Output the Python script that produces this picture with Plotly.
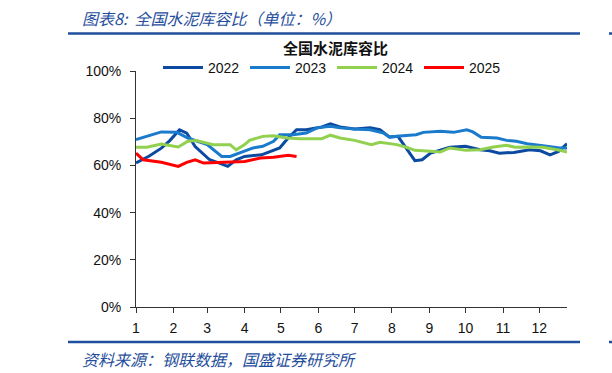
import pandas as pd
import plotly.graph_objects as go

# ---- data (day of year offsets, values in %) ----
days_2022 = [0, 11, 21, 28, 36, 42, 49, 61, 69, 76, 83, 90, 104, 111, 119, 126, 133, 141, 154, 161, 169,
             181, 194, 202, 210, 217, 224, 231, 237, 244, 252, 260, 273, 285, 293, 301, 313, 326, 335, 343, 350, 357]
vals_2022 = [61.0, 64.0, 67.3, 70.5, 75.1, 73.7, 68.0, 62.4, 61.0, 59.6, 62.4, 63.8, 64.5, 65.9, 67.4, 71.6, 75.1,
             75.1, 76.3, 77.6, 76.3, 75.4, 75.9, 75.1, 72.0, 72.3, 67.4, 62.0, 62.4, 65.2, 66.4, 67.7, 68.1, 66.6,
             66.2, 65.2, 65.5, 66.6, 66.2, 64.5, 65.9, 69.2]

days_2023 = [0, 12, 21, 34, 43, 59, 71, 78, 85, 97, 105, 114, 119, 130, 141, 150, 161, 169, 181, 194, 205,
             210, 221, 232, 238, 252, 263, 274, 279, 286, 299, 307, 315, 324, 337, 351, 357]
vals_2023 = [70.9, 72.6, 74.2, 74.0, 71.6, 68.8, 63.8, 63.8, 65.2, 67.4, 68.1, 70.2, 73.0, 73.0, 73.7, 75.9,
             76.6, 75.9, 75.4, 75.1, 73.7, 72.0, 72.6, 73.0, 74.0, 74.5, 74.0, 75.1, 74.2, 71.9, 71.6, 70.6,
             70.2, 69.2, 68.3, 67.4, 67.4]

days_2024 = [0, 9, 21, 35, 43, 50, 64, 78, 83, 90, 94, 105, 114, 125, 136, 154, 161, 169, 181, 188, 195,
             202, 216, 224, 231, 244, 252, 260, 273, 285, 296, 307, 314, 326, 337, 351, 357]
vals_2024 = [67.7, 67.7, 69.1, 67.8, 70.2, 70.5, 68.8, 68.8, 66.6, 68.8, 70.6, 72.3, 72.6, 71.6, 71.3, 71.3,
             72.8, 71.6, 70.6, 69.8, 68.8, 69.8, 68.8, 67.7, 66.4, 66.0, 65.7, 67.4, 66.4, 66.6, 67.8, 68.5,
             67.7, 67.8, 67.7, 66.4, 65.7]

days_2025 = [0, 6, 21, 35, 42, 49, 56, 67, 90, 103, 114, 126, 133]
vals_2025 = [65.2, 62.4, 61.3, 59.6, 61.3, 62.4, 61.0, 61.3, 61.7, 63.1, 63.5, 64.3, 63.8]

series_names = ["2022", "2023", "2024", "2025"]
month_labels = [str(m) for m in range(1, 13)]
y_ticks = [0, 20, 40, 60, 80, 100]

BASE = pd.Timestamp("2022-01-01")
def to_dates(days):
    return [BASE + pd.Timedelta(days=d) for d in days]

colors = ["#0B4AA0", "#1A7ACB", "#92D050", "#FF0000"]
all_days = [days_2022, days_2023, days_2024, days_2025]
all_vals = [vals_2022, vals_2023, vals_2024, vals_2025]

fig = go.Figure()
for name, d, v, c in zip(series_names, all_days, all_vals, colors):
    fig.add_trace(go.Scatter(x=to_dates(d), y=v, name=name, mode="lines",
                             line=dict(color=c, width=3)))

W, H = 612, 373
L, R, T, B = 136, 45, 71, 66
PW, PH = W - L - R, H - T - B
def px(x):
    return (x - L) / PW
def py(y):
    return (H - B - y) / PH

month_starts = [pd.Timestamp(2022, m, 1) for m in range(1, 13)]
cjk = "Noto Sans CJK SC"
blue = "#1F4E9C"

fig.update_layout(
    width=W, height=H,
    margin=dict(l=L, r=R, t=T, b=B),
    paper_bgcolor="white", plot_bgcolor="white",
    font=dict(family="Liberation Sans, Arial, " + cjk, size=14, color="#111111"),
    showlegend=True,
    legend=dict(orientation="h", x=px(158), xanchor="left", y=py(68), yanchor="middle",
                font=dict(size=14), itemwidth=40, entrywidth=32, entrywidthmode="pixels",
                tracegroupgap=0, bgcolor="rgba(0,0,0,0)"),
    xaxis=dict(type="date", range=[BASE, BASE + pd.Timedelta(days=357)],
               tickvals=month_starts, ticktext=month_labels,
               ticks="outside", ticklen=5, tickcolor="#333", showline=True, linecolor="#333",
               linewidth=1, showgrid=False, zeroline=False, tickfont=dict(size=14),
               ticklabelstandoff=3),
    yaxis=dict(range=[0, 100], tickvals=y_ticks, ticktext=[f"{t}%" for t in y_ticks],
               ticks="outside", ticklen=5, tickcolor="#333", showline=True, linecolor="#333",
               linewidth=1, showgrid=False, zeroline=False, tickfont=dict(size=14),
               ticklabelstandoff=6),
    annotations=[
        dict(text="<b>全国水泥库容比</b>", x=px(335), y=py(47), xref="paper", yref="paper",
             xanchor="center", yanchor="middle", showarrow=False,
             font=dict(family=cjk, size=15, color="#111111")),
        dict(text="<i>图表8:  全国水泥库容比（单位：%）</i>", x=px(80), y=py(18), xref="paper", yref="paper",
             xanchor="left", yanchor="middle", showarrow=False,
             font=dict(family=cjk, size=16, color=blue)),
        dict(text="<i>资料来源：钢联数据，国盛证券研究所</i>", x=px(80), y=py(359), xref="paper", yref="paper",
             xanchor="left", yanchor="middle", showarrow=False,
             font=dict(family=cjk, size=16, color=blue)),
    ],
    shapes=[
        dict(type="line", xref="paper", yref="paper", x0=px(68), x1=px(580), y0=py(33.5), y1=py(33.5),
             line=dict(color=blue, width=2.5)),
        dict(type="line", xref="paper", yref="paper", x0=px(609), x1=px(612), y0=py(33.5), y1=py(33.5),
             line=dict(color=blue, width=2.5)),
        dict(type="line", xref="paper", yref="paper", x0=px(68), x1=px(580), y0=py(342), y1=py(342),
             line=dict(color=blue, width=2.5)),
        dict(type="line", xref="paper", yref="paper", x0=px(609), x1=px(612), y0=py(342), y1=py(342),
             line=dict(color=blue, width=2.5)),
    ],
)

fig.write_html("out.html", config={"displayModeBar": False},
               post_script="document.body.style.margin='0';document.body.style.padding='0';")
